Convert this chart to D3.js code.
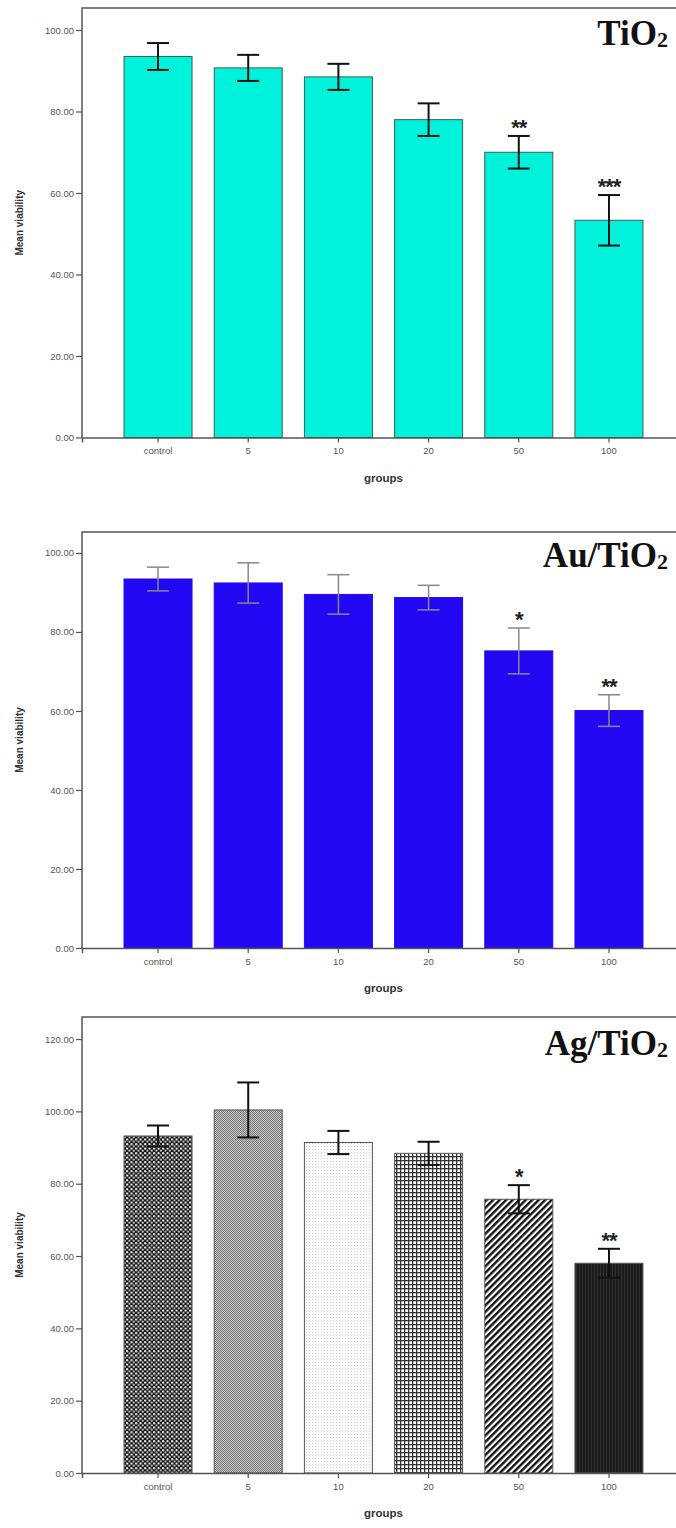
<!DOCTYPE html>
<html lang="en">
<head>
<meta charset="utf-8">
<title>Mean viability by group</title>
<style>
  body { margin: 0; background: #fff; }
  svg { display: block; }
  .tick text { font-family: "Liberation Sans", Arial, sans-serif; font-size: 9.5px; fill: #555; }
  .axis-label { font-family: "Liberation Sans", Arial, sans-serif; font-weight: bold; fill: #333; }
  .title { font-family: "Liberation Serif", "Times New Roman", serif; font-weight: bold; fill: #111; }
  .star { font-family: "Liberation Sans", Arial, sans-serif; font-weight: bold; fill: #222; }
</style>
</head>
<body>
<script src="https://cdn.jsdelivr.net/npm/d3@7"></script>
<script>
// data
var groups = ["control", "5", "10", "20", "50", "100"];

var tio2Mean = [93.5, 90.7, 88.5, 78.0, 70.0, 53.3];
var tio2Err  = [3.3, 3.2, 3.2, 4.0, 4.0, 6.2];
var tio2Stars = ["", "", "", "", "**", "***"];

var auMean = [93.4, 92.4, 89.5, 88.7, 75.2, 60.1];
var auErr  = [3.0, 5.1, 5.0, 3.1, 5.8, 4.0];
var auStars = ["", "", "", "", "*", "**"];

var agMean = [93.2, 100.4, 91.4, 88.4, 75.7, 58.0];
var agErr  = [2.9, 7.6, 3.2, 3.2, 3.9, 4.0];
var agStars = ["", "", "", "", "*", "**"];

var yTicks12 = [0, 20, 40, 60, 80, 100];
var yTicks3 = [0, 20, 40, 60, 80, 100, 120];

var w = 676, h = 1528;
var left = 82, right = 685;

var svg = d3.select("body").append("svg").attr("width", w).attr("height", h);
var defs = svg.append("defs");

// patterns for the Ag/TiO2 bars
function pat(id, size) {
  return defs.append("pattern").attr("id", id)
    .attr("patternUnits", "userSpaceOnUse").attr("width", size).attr("height", size);
}
var p0 = pat("p-dots", 4.5);
p0.append("rect").attr("width", 4.5).attr("height", 4.5).attr("fill", "#111");
p0.append("circle").attr("cx", 1.1).attr("cy", 1.1).attr("r", 1.1).attr("fill", "#fff");
p0.append("circle").attr("cx", 3.35).attr("cy", 3.35).attr("r", 1.0).attr("fill", "#eee");

var p1 = pat("p-check", 2);
p1.append("rect").attr("width", 2).attr("height", 2).attr("fill", "#c8c8c8");
p1.append("rect").attr("width", 1).attr("height", 1).attr("fill", "#777");
p1.append("rect").attr("x", 1).attr("y", 1).attr("width", 1).attr("height", 1).attr("fill", "#777");

var p2 = pat("p-light", 3);
p2.append("rect").attr("width", 3).attr("height", 3).attr("fill", "#fafafa");
p2.append("rect").attr("width", 1).attr("height", 1).attr("fill", "#d0d0d0");

var p3 = pat("p-grid", 4);
p3.append("rect").attr("width", 4).attr("height", 4).attr("fill", "#fff");
p3.append("rect").attr("width", 4).attr("height", 1.3).attr("fill", "#333");
p3.append("rect").attr("width", 1.3).attr("height", 4).attr("fill", "#333");

var p4 = pat("p-diag", 4.6);
p4.attr("patternTransform", "rotate(45)");
p4.append("rect").attr("width", 4.6).attr("height", 4.6).attr("fill", "#fff");
p4.append("rect").attr("width", 2.4).attr("height", 4.6).attr("fill", "#111");

var p5 = pat("p-dark", 3);
p5.append("rect").attr("width", 3).attr("height", 3).attr("fill", "#1a1a1a");
p5.append("rect").attr("width", 1).attr("height", 3).attr("fill", "#333");

var agFills = ["url(#p-dots)", "url(#p-check)", "url(#p-light)", "url(#p-grid)", "url(#p-diag)", "url(#p-dark)"];

function drawPanel(o) {
  var g = svg.append("g");
  var x = d3.scaleBand().domain(groups).range([left, right]).paddingInner(0.246).paddingOuter(0.466);
  var y = d3.scaleLinear().domain([0, o.ymax]).range([o.bottom, o.top]);

  // frame (top and left)
  g.append("path")
    .attr("d", "M" + left + "," + o.bottom + "V" + o.top + "H" + right)
    .attr("fill", "none").attr("stroke", "#555").attr("stroke-width", 1.5);

  g.selectAll("rect.bar").data(o.mean).enter().append("rect")
    .attr("class", "bar")
    .attr("x", function(d, i) { return x(groups[i]); })
    .attr("y", function(d) { return y(d); })
    .attr("width", x.bandwidth())
    .attr("height", function(d) { return o.bottom - y(d); })
    .attr("fill", function(d, i) { return o.fill[i]; })
    .attr("stroke", o.stroke).attr("stroke-width", 1);

  // error bars
  var eb = g.selectAll("g.err").data(o.mean).enter().append("g").attr("class", "err")
    .attr("stroke", o.errColor).attr("stroke-width", o.errWidth);
  eb.append("line")
    .attr("x1", function(d, i) { return x(groups[i]) + x.bandwidth() / 2; })
    .attr("x2", function(d, i) { return x(groups[i]) + x.bandwidth() / 2; })
    .attr("y1", function(d, i) { return y(d + o.err[i]); })
    .attr("y2", function(d, i) { return y(d - o.err[i]); });
  [1, -1].forEach(function(s) {
    eb.append("line")
      .attr("x1", function(d, i) { return x(groups[i]) + x.bandwidth() / 2 - 11; })
      .attr("x2", function(d, i) { return x(groups[i]) + x.bandwidth() / 2 + 11; })
      .attr("y1", function(d, i) { return y(d + s * o.err[i]); })
      .attr("y2", function(d, i) { return y(d + s * o.err[i]); });
  });

  // significance stars
  g.selectAll("text.star").data(o.stars).enter().append("text")
    .attr("class", "star")
    .attr("x", function(d, i) { return x(groups[i]) + x.bandwidth() / 2; })
    .attr("y", function(d, i) { return y(o.mean[i] + o.err[i]) - 1; })
    .attr("text-anchor", "middle")
    .attr("font-size", 22)
    .attr("letter-spacing", -1)
    .text(function(d) { return d; });

  // axes
  var ya = g.append("g").attr("transform", "translate(" + left + ",0)")
    .call(d3.axisLeft(y).tickValues(o.ticks).tickFormat(d3.format(".2f")).tickSize(6).tickPadding(2));
  ya.select(".domain").remove();
  ya.selectAll(".tick line").attr("stroke", "#555").attr("stroke-width", 1.2);

  var xa = g.append("g").attr("transform", "translate(0," + o.bottom + ")")
    .call(d3.axisBottom(x).tickSize(5).tickPadding(5));
  xa.select(".domain").attr("stroke", "#555").attr("stroke-width", 1.5);
  xa.selectAll(".tick line").attr("stroke", "#555").attr("stroke-width", 1.2);

  g.append("text").attr("class", "axis-label")
    .attr("x", (left + right) / 2).attr("y", o.bottom + 44)
    .attr("text-anchor", "middle").attr("font-size", 11.5).text("groups");

  g.append("text").attr("class", "axis-label")
    .attr("transform", "translate(23," + ((o.top + o.bottom) / 2) + ") rotate(-90)")
    .attr("text-anchor", "middle").attr("font-size", 10).text("Mean viability");

  var t = g.append("text").attr("class", "title")
    .attr("x", 668).attr("y", o.top + o.titleDy)
    .attr("text-anchor", "end").attr("font-size", 35);
  t.append("tspan").text(o.title);
  t.append("tspan").attr("font-size", 22).attr("dy", 2).text("2");
}

drawPanel({
  top: 8, bottom: 437.5, ymax: 105.4, ticks: yTicks12,
  mean: tio2Mean, err: tio2Err, stars: tio2Stars,
  fill: groups.map(function() { return "#00f2da"; }), stroke: "#3a5f5a",
  errColor: "#111", errWidth: 2, title: "TiO", titleDy: 37
});

drawPanel({
  top: 532, bottom: 948, ymax: 105.3, ticks: yTicks12,
  mean: auMean, err: auErr, stars: auStars,
  fill: groups.map(function() { return "#2208f2"; }), stroke: "#2208f2",
  errColor: "#888", errWidth: 1.5, title: "Au/TiO", titleDy: 35
});

drawPanel({
  top: 1017, bottom: 1473, ymax: 126.1, ticks: yTicks3,
  mean: agMean, err: agErr, stars: agStars,
  fill: agFills, stroke: "#555",
  errColor: "#111", errWidth: 2, title: "Ag/TiO", titleDy: 38
});
</script>
</body>
</html>
